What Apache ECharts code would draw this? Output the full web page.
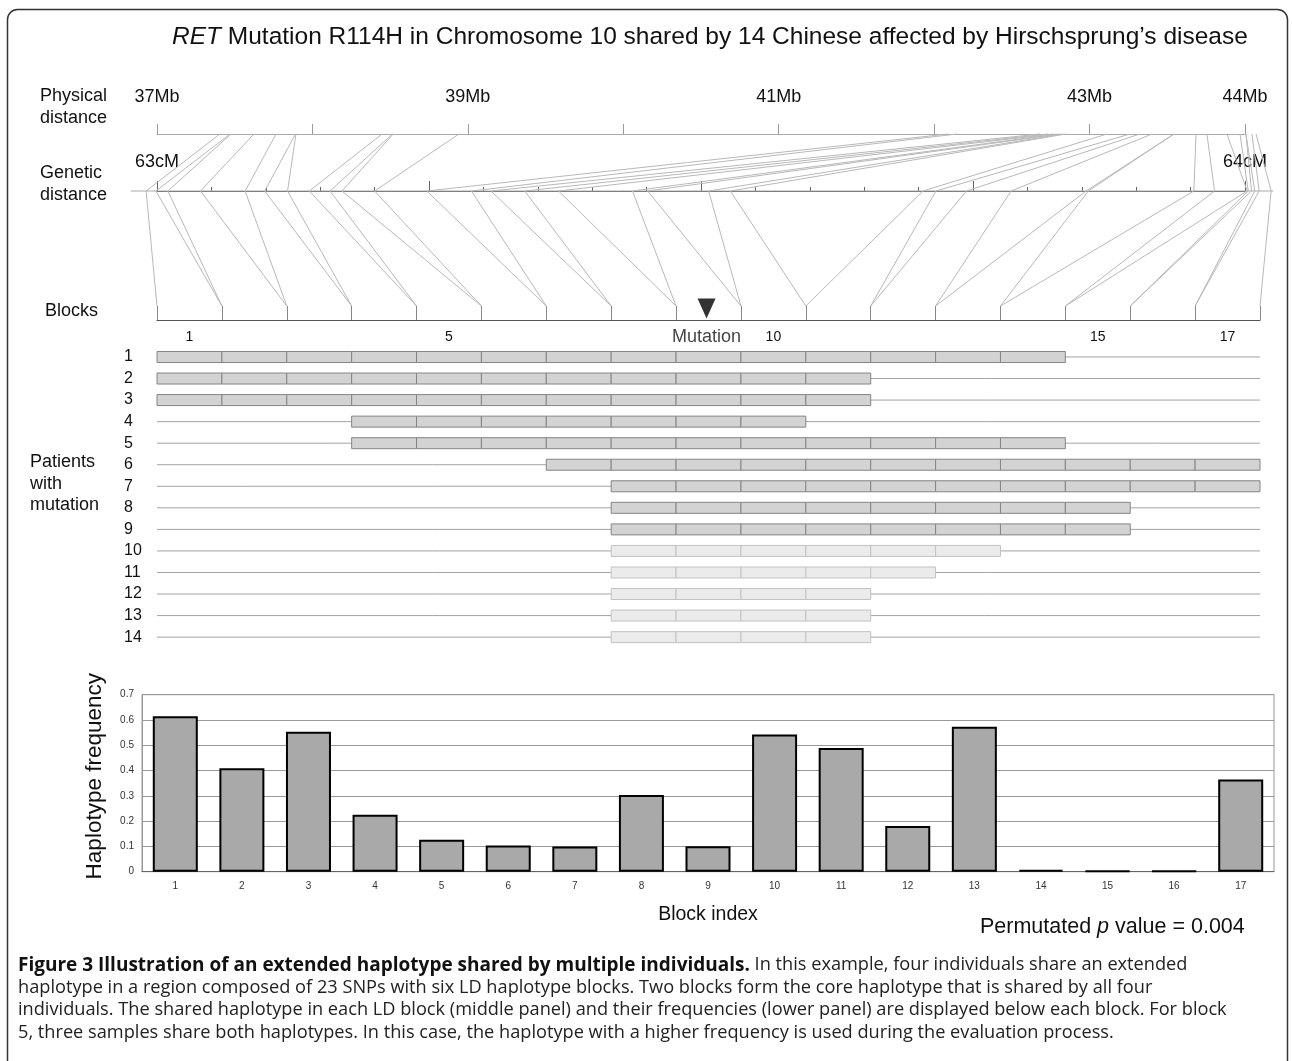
<!DOCTYPE html>
<html><head><meta charset="utf-8">
<script src="https://cdn.jsdelivr.net/npm/echarts@6/dist/echarts.min.js"></script>
<style>html,body{margin:0;padding:0;background:#fff}#c{width:1292px;height:1061px}</style>
</head><body><div id="c"></div>
<script>
// ---------- data ----------
const physLabels = [37, 39, 41, 43, 44];          // Mb labels shown
const genLabels = [63, 64];                       // cM labels shown
const blockIndex = ['1','2','3','4','5','6','7','8','9','10','11','12','13','14','15','16','17'];
const blockLabels = ['1','5','10','15','17'];
// SNPs at block boundaries: physical (Mb), genetic (cM), block boundary index (0..17)
const snpPhysMb = [37.405,37.470,37.476,37.624,37.766,37.891,37.894,38.448,38.515,38.520,38.943,
  42.089,42.147,42.681,42.733,42.765,42.790,42.810,42.829,42.848,43.112,43.260,43.324,43.402,43.543,
  43.543,43.685,43.755,43.884,43.968,44.006,44.006,44.045,44.071];
const snpGenCM = [62.990,62.999,63.010,63.040,63.081,63.099,63.120,63.140,63.159,63.170,63.200,
  63.248,63.289,63.307,63.338,63.369,63.437,63.451,63.507,63.527,63.704,63.716,63.744,63.785,63.854,
  63.856,63.953,63.972,64.002,64.003,64.006,64.009,64.013,64.024];
const snpBoundary = [0,1,1,2,2,3,3,4,4,5,5,6,6,7,7,8,8,9,9,10,10,11,11,12,12,13,13,14,14,15,15,16,16,17];
const genAxisExtent = [62.976, 64.026];
const patients = ['1','2','3','4','5','6','7','8','9','10','11','12','13','14'];
const hapStart = [1,1,1,4,4,7,8,8,8,8,8,8,8,8];
const hapEnd   = [14,11,11,10,14,17,17,15,15,13,12,11,11,11];
const hapShade = [0,0,0,0,0,0,0,0,0,1,1,1,1,1];
const mutationPos = 8.47;
const hapFreq = [0.615,0.409,0.553,0.225,0.126,0.104,0.100,0.303,0.101,0.543,0.489,0.181,0.573,0.007,0.003,0.003,0.365];

// ---------- chart ----------
const chart = echarts.init(document.getElementById('c'), null, {renderer: 'canvas'});
const F = "'Liberation Sans', Arial, sans-serif";
const C = "'Open Sans', 'Noto Sans', sans-serif";
let P = null; // pixel cache for links

const rowData = patients.map((p, i) => [i, hapStart[i], hapEnd[i], hapShade[i]]);

const option = {
  animation: false,
  textStyle: {fontFamily: F},
  grid: [
    {left: 157, width: 1088, top: 134, height: 10},   // physical
    {left: 157, width: 1088, top: 191, height: 10},   // genetic
    {left: 157, width: 1103, top: 191, height: 129},  // blocks
    {left: 157, width: 1103, top: 346.2, height: 301.7}, // patients
    {left: 142, right: 18, top: 694.7, height: 177, show: true, borderColor: '#999', borderWidth: 1} // bars
  ],
  xAxis: [
    {gridIndex: 0, type: 'value', position: 'top', min: 37, max: 44, interval: 1,
     axisLine: {onZero: false, lineStyle: {color: '#aaa'}}, axisTick: {length: 10, lineStyle: {color: '#999'}},
     splitLine: {show: false},
     axisLabel: {margin: 28, fontSize: 18, color: '#111', fontFamily: F,
       formatter: v => physLabels.includes(v) ? v + 'Mb' : ''}},
    {gridIndex: 1, type: 'value', position: 'top', min: 63, max: 64, interval: 0.25,
     axisLine: {onZero: false, lineStyle: {color: '#555', width: 1.2}}, axisTick: {length: 10, lineStyle: {color: '#666'}},
     minorTick: {show: true, splitNumber: 5, length: 4, lineStyle: {color: '#666'}},
     splitLine: {show: false},
     axisLabel: {margin: 20, fontSize: 18, color: '#111', fontFamily: F,
       formatter: v => genLabels.includes(v) ? v + 'cM' : ''}},
    {gridIndex: 2, type: 'value', position: 'bottom', min: 0, max: 17, interval: 1,
     axisLine: {onZero: false, lineStyle: {color: '#555', width: 1.2}},
     axisTick: {inside: true, length: 14, lineStyle: {color: '#888'}},
     splitLine: {show: false}, axisLabel: {show: false}},
    {gridIndex: 2, type: 'category', position: 'bottom', data: blockIndex,
     axisLine: {show: false}, axisTick: {show: false},
     axisLabel: {interval: 0, margin: 10, fontSize: 14, color: '#111',
       formatter: v => blockLabels.includes(v) ? v : ''}},
    {gridIndex: 3, type: 'value', min: 0, max: 17, show: false},
    {gridIndex: 4, type: 'category', data: blockIndex,
     name: 'Block index', nameLocation: 'middle', nameGap: 33,
     nameTextStyle: {fontSize: 19.5, color: '#111'},
     axisLine: {lineStyle: {color: '#666'}},
     axisTick: {inside: true, length: 3, lineStyle: {color: '#999'}},
     axisLabel: {fontSize: 10, color: '#333', margin: 10}}
  ],
  yAxis: [
    {gridIndex: 0, type: 'value', min: 0, max: 1, show: false},
    {gridIndex: 1, type: 'value', min: 0, max: 1, show: false},
    {gridIndex: 2, type: 'value', min: 0, max: 1, show: false},
    {gridIndex: 3, type: 'category', data: patients, inverse: true,
     axisLine: {show: false}, axisTick: {show: false}, splitLine: {show: false},
     axisLabel: {align: 'left', margin: 33, fontSize: 16, color: '#111'}},
    {gridIndex: 4, type: 'value', min: 0, max: 0.7, interval: 0.1,
     name: 'Haplotype frequency', nameLocation: 'middle', nameGap: 36, nameRotate: 90,
     nameTextStyle: {fontSize: 22.5, color: '#111', padding: [0, 0, 0, 14]},
     axisLine: {show: true, lineStyle: {color: '#999'}}, axisTick: {show: false},
     splitLine: {lineStyle: {color: '#999'}},
     axisLabel: {fontSize: 10, color: '#333', margin: 8, formatter: v => v === 0 ? '0' : v.toFixed(1)}}
  ],
  series: [
    {type: 'custom', name: 'haplotypes', xAxisIndex: 4, yAxisIndex: 3,
     encode: {x: [1, 2], y: 0}, data: rowData,
     renderItem(params, api) {
       const row = api.value(0), s = api.value(1), e = api.value(2), shade = api.value(3);
       const a = api.coord([0, row]), b = api.coord([17, row]);
       const ch = [{type: 'line', shape: {x1: a[0], y1: a[1], x2: b[0], y2: b[1]},
         style: {stroke: '#a3a3a3', lineWidth: 1}}];
       for (let k = s - 1; k < e; k++) {
         const p0 = api.coord([k, row]), p1 = api.coord([k + 1, row]);
         ch.push({type: 'rect', shape: {x: p0[0], y: p0[1] - 5.5, width: p1[0] - p0[0], height: 11},
           style: {fill: shade ? '#ebebeb' : '#d3d3d3', stroke: shade ? '#c2c2c2' : '#858585', lineWidth: 1}});
       }
       return {type: 'group', children: ch};
     }},
    {type: 'scatter', name: 'mutation', xAxisIndex: 2, yAxisIndex: 2,
     data: [[mutationPos, 0.09]], symbol: 'triangle', symbolSize: [18, 20], symbolRotate: 180,
     itemStyle: {color: '#000'},
     label: {show: true, position: 'bottom', distance: 10, formatter: 'Mutation', fontSize: 18, color: '#111', fontFamily: F}},
    {type: 'bar', name: 'freq', xAxisIndex: 5, yAxisIndex: 4, data: hapFreq, barWidth: 45,
     itemStyle: {color: '#a9a9a9', borderColor: '#000', borderWidth: 2}},
    {type: 'custom', id: 'links', coordinateSystem: 'none', data: [], z: 1,
     renderItem(params, api) {
       const i = params.dataIndex;
       const ls = {stroke: '#b8b8b8', lineWidth: 1};
       const ch = [
         {type: 'line', shape: {x1: P.phys[i], y1: P.yPhys, x2: P.gen[i], y2: P.yGen}, style: ls},
         {type: 'line', shape: {x1: P.gen[i], y1: P.yGen, x2: P.blk[i], y2: P.yBlk}, style: ls}
       ];
       if (i === 0) ch.push({type: 'line', shape: {x1: P.ext[0], y1: P.yGen, x2: P.ext[1], y2: P.yGen},
         style: {stroke: '#aaa', lineWidth: 1}});
       return {type: 'group', children: ch};
     }}
  ],
  graphic: [
    {type: 'rect', z: -1, shape: {x: 7.5, y: 9.5, width: 1280, height: 1120, r: 10},
     style: {fill: 'none', stroke: '#333', lineWidth: 1.5}},
    {type: 'text', x: 172, y: 37, style: {
      text: '{i|RET}{n| Mutation R114H in Chromosome 10 shared by 14 Chinese affected by Hirschsprung’s disease}',
      verticalAlign: 'middle', rich: {
        i: {fontSize: 24.5, fontStyle: 'italic', fontFamily: F, fill: '#111'},
        n: {fontSize: 24.5, fontFamily: F, fill: '#111'}}}},
    {type: 'text', x: 40, y: 107, style: {text: 'Physical\ndistance', fontSize: 18, lineHeight: 22, fontFamily: F, fill: '#111', verticalAlign: 'middle'}},
    {type: 'text', x: 40, y: 184, style: {text: 'Genetic\ndistance', fontSize: 18, lineHeight: 22, fontFamily: F, fill: '#111', verticalAlign: 'middle'}},
    {type: 'text', x: 45, y: 311, style: {text: 'Blocks', fontSize: 18, fontFamily: F, fill: '#111', verticalAlign: 'middle'}},
    {type: 'text', x: 30, y: 484, style: {text: 'Patients\nwith\nmutation', fontSize: 18, lineHeight: 21.5, fontFamily: F, fill: '#111', verticalAlign: 'middle'}},
    {type: 'text', x: 980, y: 927, style: {
      text: '{n|Permutated }{i|p}{n| value = 0.004}', verticalAlign: 'middle', rich: {
        n: {fontSize: 21.5, fontFamily: F, fill: '#111'},
        i: {fontSize: 21.5, fontFamily: F, fontStyle: 'italic', fill: '#111'}}}},
    {type: 'text', x: 18, y: 954, style: {
      text: '{b|Figure 3 Illustration of an extended haplotype shared by multiple individuals.}{n| In this example, four individuals share an extended}\n' +
            '{n|haplotype in a region composed of 23 SNPs with six LD haplotype blocks. Two blocks form the core haplotype that is shared by all four}\n' +
            '{n|individuals. The shared haplotype in each LD block (middle panel) and their frequencies (lower panel) are displayed below each block. For block}\n' +
            '{n|5, three samples share both haplotypes. In this case, the haplotype with a higher frequency is used during the evaluation process.}',
      rich: {
        b: {fontSize: 19, fontWeight: 'bold', fontFamily: C, fill: '#111', lineHeight: 22.4},
        n: {fontSize: 18.2, fontFamily: C, fill: '#222', lineHeight: 22.4}}}}
  ]
};
chart.setOption(option);

// second pass: pixel positions of SNP ends from the axes' own scales
P = {
  phys: snpPhysMb.map(v => chart.convertToPixel({xAxisIndex: 0}, v)),
  gen: snpGenCM.map(v => chart.convertToPixel({xAxisIndex: 1}, v)),
  blk: snpBoundary.map(v => chart.convertToPixel({xAxisIndex: 2}, v)),
  ext: genAxisExtent.map(v => chart.convertToPixel({xAxisIndex: 1}, v)),
  yPhys: chart.convertToPixel({yAxisIndex: 0}, 1),
  yGen: chart.convertToPixel({yAxisIndex: 1}, 1),
  yBlk: chart.convertToPixel({yAxisIndex: 2}, 0) - 14
};
chart.setOption({series: [{id: 'links', data: snpBoundary.map((b, i) => i)}]});
</script></body></html>
